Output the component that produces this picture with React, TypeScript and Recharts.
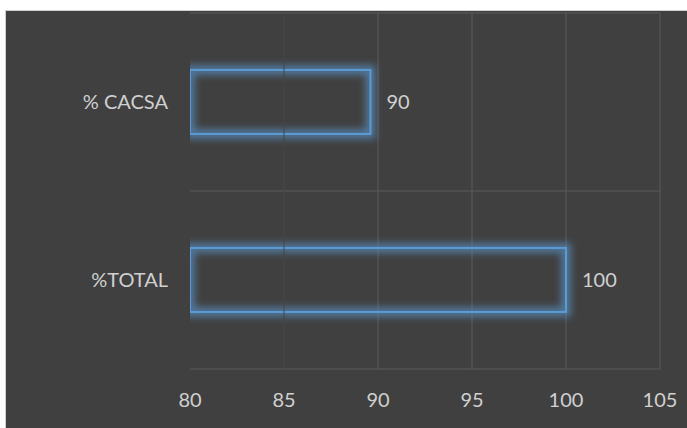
import React from "react";
import { BarChart, Bar, XAxis, YAxis, CartesianGrid, LabelList, ReferenceLine } from "recharts";

const categories = ["% CACSA", "%TOTAL"];
const values = [89.6, 100];
const labels = ["90", "100"];
const xTicks = [80, 85, 90, 95, 100, 105];

const data = categories.map((name, i) => ({ name, value: values[i], label: labels[i] }));

const BG = "#404040";
const GRID = "#5a5a5a";
const TEXT = "#d0d0d0";
const BLUE = "#5b9bd5";
const FONT = "Lato, 'Open Sans', sans-serif";
const FS = 20;

const GlowBar = (props: any) => {
  const { x, y, width, height, index } = props;
  const id = `glow-${index}`;
  return (
    <g>
      <defs>
        <filter id={id} x="-20%" y="-50%" width="140%" height="200%">
          <feGaussianBlur stdDeviation="3.5" />
        </filter>
      </defs>
      <rect x={x} y={y} width={width} height={height} fill="none" stroke={BLUE} strokeOpacity={0.6} strokeWidth={10} filter={`url(#${id})`} />
      <rect x={x} y={y} width={width} height={height} fill="none" stroke={BLUE} strokeWidth={2} />
    </g>
  );
};

export default function App() {
  return (
    <div style={{ position: "absolute", left: 0, top: 0, width: 687, height: 428, background: "#ffffff", overflow: "hidden" }}>
      <div style={{ position: "absolute", left: 5, top: 10, width: 690, height: 430, background: BG, border: "1px solid #d0d0d0", boxSizing: "border-box" }} />
      <div style={{ position: "absolute", left: 0, top: 0 }}>
        <BarChart
          width={687}
          height={428}
          data={data}
          layout="vertical"
          margin={{ top: 13, right: 27, bottom: 0, left: 0 }}
          barCategoryGap="32%"
        >
          <CartesianGrid
            stroke={GRID}
            strokeWidth={1}
            verticalCoordinatesGenerator={({ offset }: any) =>
              xTicks.filter((t) => t >= 90).map((t) => offset.left + ((t - 80) / 25) * offset.width)
            }
            horizontalCoordinatesGenerator={({ offset }: any) => [
              offset.top,
              offset.top + offset.height / 2,
              offset.top + offset.height,
            ]}
          />
          <ReferenceLine x={85} stroke="#464646" strokeWidth={1} />
          <XAxis
            type="number"
            domain={[80, 105]}
            ticks={xTicks}
            axisLine={false}
            tickLine={false}
            tickSize={0}
            tickMargin={24}
            height={59}
            tick={{ fill: TEXT, fontSize: FS, fontFamily: FONT }}
            allowDataOverflow
          />
          <YAxis
            type="category"
            dataKey="name"
            width={190}
            axisLine={false}
            tickLine={false}
            tickSize={0}
            tickMargin={22}
            tick={{ fill: TEXT, fontSize: FS, fontFamily: FONT }}
          />
          <Bar dataKey="value" isAnimationActive={false} shape={GlowBar}>
            <LabelList dataKey="label" position="right" offset={16} fill={TEXT} fontSize={FS} fontFamily={FONT} />
          </Bar>
        </BarChart>
      </div>
    </div>
  );
}
